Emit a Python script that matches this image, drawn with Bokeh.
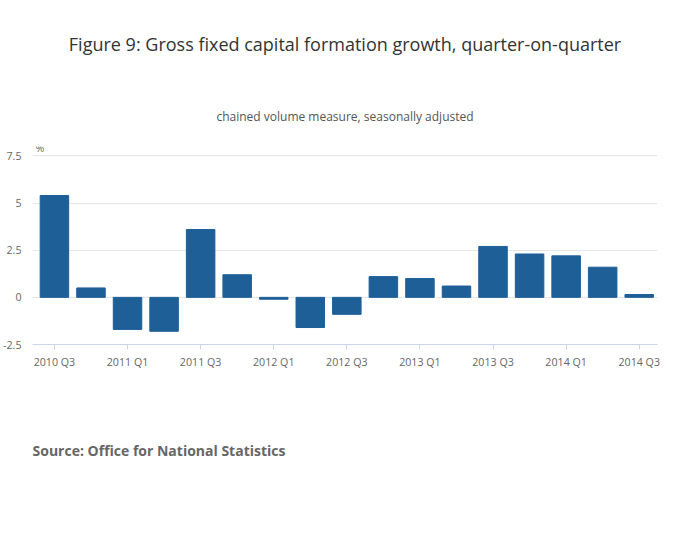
from bokeh.plotting import figure
from bokeh.models import Label, Title, FixedTicker, Range1d
from bokeh.embed import file_html
from bokeh.resources import INLINE

quarters = ["2010 Q3","2010 Q4","2011 Q1","2011 Q2","2011 Q3","2011 Q4","2012 Q1","2012 Q2",
            "2012 Q3","2012 Q4","2013 Q1","2013 Q2","2013 Q3","2013 Q4","2014 Q1","2014 Q2","2014 Q3"]
growth = [5.4,0.5,-1.7,-1.8,3.6,1.2,-0.1,-1.6,-0.9,1.1,1.0,0.6,2.7,2.3,2.2,1.6,0.15]
y_ticks = [-2.5,0,2.5,5,7.5]
y_labels = {-2.5:"-2.5",0:"0",2.5:"2.5",5:"5",7.5:"7.5"}

F = "Open Sans"
p = figure(width=684, height=533, output_backend="svg", toolbar_location=None,
           x_range=Range1d(-0.6, 16.5), y_range=Range1d(-2.5, 8.0),
           min_border_left=32, min_border_right=27, min_border_top=0, min_border_bottom=189)
xs = list(range(len(quarters)))
p.vbar(x=xs, top=growth, width=0.78, color="#1f5f98")

p.add_layout(Title(text="chained volume measure, seasonally adjusted", align="center",
                   text_font=F, text_font_size="9pt", text_font_style="normal", text_color="#555555",
                   standoff=43), "above")
p.add_layout(Title(text="Figure 9: Gross fixed capital formation growth, quarter-on-quarter", align="center",
                   text_font=F, text_font_size="13.5pt", text_font_style="normal", text_color="#333333",
                   standoff=58), "above")
p.add_layout(Title(text="Source: Office for National Statistics", align="left",
                   text_font=F, text_font_size="10.5pt", text_font_style="bold", text_color="#666666",
                   standoff=134), "below")

p.xaxis.ticker = FixedTicker(ticks=xs[::2])
p.xaxis.major_label_overrides = {i: quarters[i] for i in xs[::2]}
p.yaxis.ticker = FixedTicker(ticks=y_ticks)
p.yaxis.major_label_overrides = y_labels
for ax in (p.xaxis, p.yaxis):
    ax.major_label_text_font = F
    ax.major_label_text_font_size = "8pt"
    ax.major_label_text_color = "#666666"
    ax.minor_tick_line_color = None
p.yaxis.axis_line_color = None
p.yaxis.major_tick_line_color = None
p.xaxis.axis_line_color = "#ccd6eb"
p.xaxis.major_tick_line_color = "#ccd6eb"
p.xaxis.major_tick_in = 0
p.xaxis.major_tick_out = 5
p.xgrid.grid_line_color = None
p.ygrid.grid_line_color = "#e6e6e6"
p.outline_line_color = None

p.add_layout(Label(x=-0.6, y=7.5, x_offset=3, y_offset=1, text="%", text_font=F, text_font_size="8pt",
                   text_color="#666666"))

open("out.html", "w").write(file_html(p, INLINE))
